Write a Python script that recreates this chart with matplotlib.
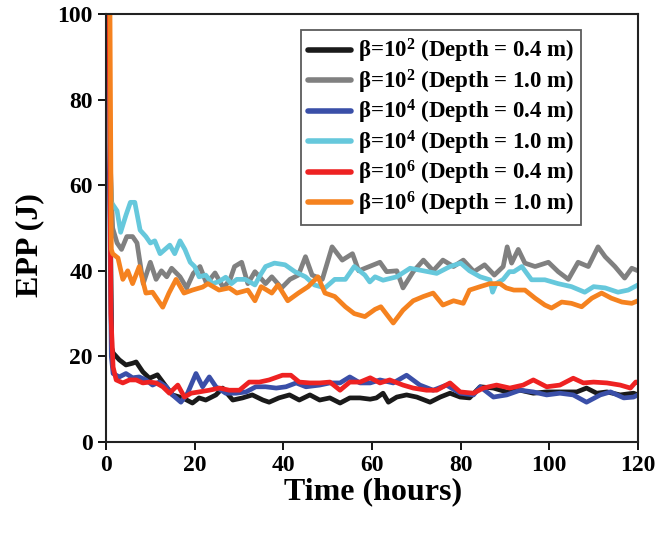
import matplotlib
matplotlib.use("Agg")
import matplotlib.pyplot as plt

plt.rcParams['font.family'] = ['Liberation Serif', 'DejaVu Serif']
plt.rcParams['font.weight'] = 'bold'
plt.rcParams['mathtext.fontset'] = 'custom'
plt.rcParams['mathtext.rm'] = 'Liberation Serif:bold'
plt.rcParams['mathtext.bf'] = 'Liberation Serif:bold'
plt.rcParams['mathtext.it'] = 'Liberation Serif:bold'

# ---- data ----
t_cyan = [0, 0.6, 1.2, 2.5, 3.3, 4.5, 5.5, 6.5, 7.7, 9, 10, 11, 12.2, 13.3, 14.4, 15.5, 16.7, 17.8, 19, 20,
          21, 22.5, 24, 25.5, 27, 28.3, 29.5, 31.4, 33.6, 34.8, 36, 38, 40.4, 42.6, 45, 47, 49.4, 51.6, 54, 56,
          58.4, 59.5, 60.7, 62.5, 65.6, 68.6, 71.6, 74.6, 77.6, 80, 82, 84.4, 86.6, 87.2, 88, 89.6, 91, 92,
          93.8, 96, 99, 102, 105, 108, 110, 112.6, 115.5, 117.8, 120]
v_cyan = [130, 75, 56, 54, 49, 53, 56, 56, 49.5, 48, 46.5, 47, 44, 45, 46, 44, 47, 45, 42, 41,
          38.6, 39, 37, 37.5, 38.5, 37, 38, 38, 36.7, 39, 41, 41.8, 41.4, 39.8, 38.6, 36.7, 36, 38, 38, 41,
          39, 37.4, 38.6, 37.8, 38.6, 40.6, 40, 39.4, 41, 41.8, 40, 38.6, 37.9, 35, 37, 38, 39.8, 39.8,
          41, 37.9, 37.9, 37, 36.3, 35, 36.3, 36, 35, 35.5, 36.7]

t_gray = [0, 0.8, 1.5, 2.5, 3.5, 4.7, 6, 7, 8.4, 10, 11.3, 12.5, 13.7, 14.8, 16.7, 18.2, 19.7, 21.2, 22.7,
          24.6, 26.5, 28, 29, 30.6, 32, 33.6, 36, 37.4, 39.6, 41.5, 43.4, 45, 46.5, 48.8, 51, 53.3, 55.6, 57,
          59.4, 61.8, 63.3, 65.6, 67, 69.3, 71.6, 73.8, 76, 78.4, 80.6, 83, 85.4, 87.6, 89.6, 90.5, 91.5, 93,
          94.5, 96.8, 99.8, 102, 104.3, 106.5, 108.8, 111, 112.6, 114.8, 117, 118.6, 120]
v_gray = [130, 70, 50, 46.5, 45, 48, 48, 46.5, 37, 42, 38, 40, 38.6, 40.6, 38.6, 36, 39.4, 41, 37,
          39.5, 36, 38, 41, 42, 37, 39.8, 37, 38.6, 36, 38, 39, 43.3, 39, 38, 45.6, 42.5, 44, 40,
          41, 42, 39.8, 40, 36, 39.8, 42.5, 40, 42.5, 41, 42.5, 39.8, 41.4, 39, 41, 45.6, 41.8, 45,
          41.8, 41, 42, 39.8, 38, 42, 41, 45.6, 43.3, 41, 38.3, 40.6, 40]

t_orange = [0, 0.9, 1.2, 1.5, 2.7, 3.8, 4.9, 6, 7.5, 9, 10.5, 12.8, 14.2, 15.8, 17.6, 19.5, 21.8, 23, 25.5,
            27.8, 29.5, 32, 33.6, 35, 37.4, 38.8, 41, 43.4, 45.6, 47.8, 49.4, 51.6, 54, 56, 58.4, 60.7, 62,
            64.8, 67, 69.3, 71.6, 73.8, 76, 78.4, 80.6, 82, 84.4, 86.6, 88.9, 90.3, 92, 94.5, 96.8, 99, 100.5,
            102.8, 105, 107.3, 109.6, 111.8, 114, 116.4, 118.6, 120]
v_orange = [130, 100, 45, 44, 43, 38, 40, 37, 41, 34.8, 35, 31.5, 34.8, 38, 34.8, 35.5, 36.2, 37, 35.5,
            36, 34.8, 35.5, 33, 36.3, 34.8, 36.7, 33, 34.8, 36.3, 38.6, 34.8, 34, 31.6, 30, 29.3, 31, 31.6,
            27.8, 30.8, 33, 34, 34.8, 32, 33, 32.4, 35.5, 36.3, 37, 37, 36, 35.5, 35.5, 33.6, 32, 31.3,
            32.7, 32.4, 31.6, 33.6, 34.8, 33.6, 32.7, 32.4, 33]

t_black = [0, 0.9, 1.3, 1.6, 3, 4.5, 6, 6.8, 8.3, 9.8, 11.6, 13.6, 15, 17.3, 19.5, 21, 22.5, 24.8, 26.3,
           28.6, 30.8, 33, 35.4, 36.8, 39, 41.4, 43.6, 46, 48.2, 50.5, 52.8, 55, 57.3, 59.6, 61, 62.5, 63.7,
           65.6, 67.8, 70.1, 73.1, 75.4, 77.6, 79.9, 82, 84.4, 87.4, 90.4, 93.4, 96.4, 99.4, 102.4, 106.2,
           108.4, 110.7, 113, 116, 119, 120]
v_black = [130, 60, 22, 20.8, 19.2, 18, 18.4, 18.7, 16.4, 14.9, 15.7, 12.9, 11, 10.3, 9.1, 10.3, 9.8, 11, 12.6,
           9.8, 10.3, 11, 9.8, 9.3, 10.3, 11, 9.8, 11, 9.8, 10.3, 9.1, 10.3, 10.3, 10, 10.3, 11.4, 9.3,
           10.5, 11, 10.5, 9.3, 10.5, 11.4, 10.5, 10.3, 12.9, 12.6, 11.7, 12.1, 11.4, 11.7, 11.7, 11.7,
           12.6, 11.4, 11.7, 11, 11.4, 11]

t_red = [0, 0.7, 1.1, 1.6, 2.3, 3.8, 5.3, 6.8, 8.3, 9.8, 11.3, 12.8, 14.3, 16.2, 17.7, 19.2, 21, 23.3, 25.6,
         27.8, 30.1, 32.3, 34.6, 36.8, 39.8, 41.7, 43.6, 46, 48.2, 50.5, 52.8, 55, 57.3, 59.6, 61.8, 64, 67,
         69.3, 72.3, 74.6, 77.6, 79.9, 82.9, 85.1, 88.1, 91.1, 94.1, 96.4, 99.4, 102.4, 105.4, 107.7, 110,
         113, 116, 118.3, 119.5, 120]
v_red = [130, 100, 30, 17.5, 14.5, 13.8, 14.5, 14.5, 13.8, 14, 13.8, 12.9, 11.4, 13.3, 10.5, 11.4, 11.7, 12.1, 12.6,
         12.1, 12.1, 14, 14, 14.5, 15.6, 15.6, 14, 13.8, 13.8, 14, 12.1, 14, 14, 15, 13.8, 14.5, 13.3,
         12.6, 12.1, 12.1, 13.8, 11.7, 11.4, 12.6, 13.3, 12.6, 13.3, 14.5, 12.9, 13.3, 14.9, 13.8, 14,
         13.8, 13.3, 12.6, 14, 14]

t_blue = [0, 0.8, 1.2, 1.6, 3, 4.5, 6, 7.5, 9, 10.5, 12, 13.6, 15, 16.9, 18.4, 20.3, 21.8, 23.3, 24.8, 27,
          29.3, 31.6, 33.8, 36, 38.4, 40.6, 42.9, 45.1, 48.2, 50.5, 52.8, 55, 57.3, 59.6, 61.8, 64.8, 67.8,
          70.8, 73.8, 76.8, 79.9, 82.9, 84.4, 87.4, 90.4, 93.4, 96.4, 99.4, 102.4, 105.4, 108.4, 111.5,
          113.8, 116.8, 119, 120]
v_blue = [130, 60, 20, 16, 15.2, 16, 15, 15.2, 14.5, 13.3, 14, 12.9, 11, 9.3, 11.4, 16, 12.9, 15.2, 12.9, 11.4,
          11.4, 11.7, 12.9, 12.9, 12.6, 12.9, 13.8, 12.9, 13.3, 13.8, 13.8, 15.2, 13.8, 13.8, 14.5, 13.8, 15.6,
          13.3, 12.1, 13.3, 11.4, 11, 12.9, 10.5, 11, 12.1, 11.7, 11, 11.4, 11, 9.3, 11,
          11.7, 10.3, 10.5, 11]

series = [
    (t_black, v_black, '#1a1a1a', 'β=10$^{2}$ (Depth = 0.4 m)'),
    (t_gray, v_gray, '#808080', 'β=10$^{2}$ (Depth = 1.0 m)'),
    (t_blue, v_blue, '#3a4fa8', 'β=10$^{4}$ (Depth = 0.4 m)'),
    (t_cyan, v_cyan, '#66c8dc', 'β=10$^{4}$ (Depth = 1.0 m)'),
    (t_red, v_red, '#ee2222', 'β=10$^{6}$ (Depth = 0.4 m)'),
    (t_orange, v_orange, '#f5821f', 'β=10$^{6}$ (Depth = 1.0 m)'),
]

fig = plt.figure(figsize=(6.6, 5.4), dpi=100)
ax = fig.add_axes([0.1606, 0.1815, 0.806, 0.7925])

for t, v, c, lab in series:
    ax.plot(t, v, color=c, lw=3.4, label=lab, solid_joinstyle='round', solid_capstyle='round')

ax.set_xlim(0, 120)
ax.set_ylim(0, 100)
ax.set_xticks([0, 20, 40, 60, 80, 100, 120])
ax.set_yticks([0, 20, 40, 60, 80, 100])
ax.tick_params(labelsize=17, width=1.3, length=6)
for lbl in ax.get_xticklabels() + ax.get_yticklabels():
    lbl.set_fontweight('bold')
for s in ax.spines.values():
    s.set_linewidth(1.5)
    s.set_color('#222222')

ax.set_xlabel('Time (hours)', fontsize=23, fontweight='bold')
ax.set_ylabel('EPP (J)', fontsize=23, fontweight='bold')
ax.xaxis.set_label_coords(0.502, -0.082)
ax.yaxis.set_label_coords(-0.117, 0.46)

leg = ax.legend(loc='upper right', bbox_to_anchor=(0.893, 0.962),
                prop={'weight': 'bold', 'size': 16.5}, frameon=True, fancybox=False,
                edgecolor='#333333', handlelength=1.9, handletextpad=0.3,
                labelspacing=0.1, borderpad=0.3, borderaxespad=0)
leg.get_frame().set_linewidth(1.3)
for line in leg.get_lines():
    line.set_linewidth(4)

fig.savefig('out.png', dpi=100)
